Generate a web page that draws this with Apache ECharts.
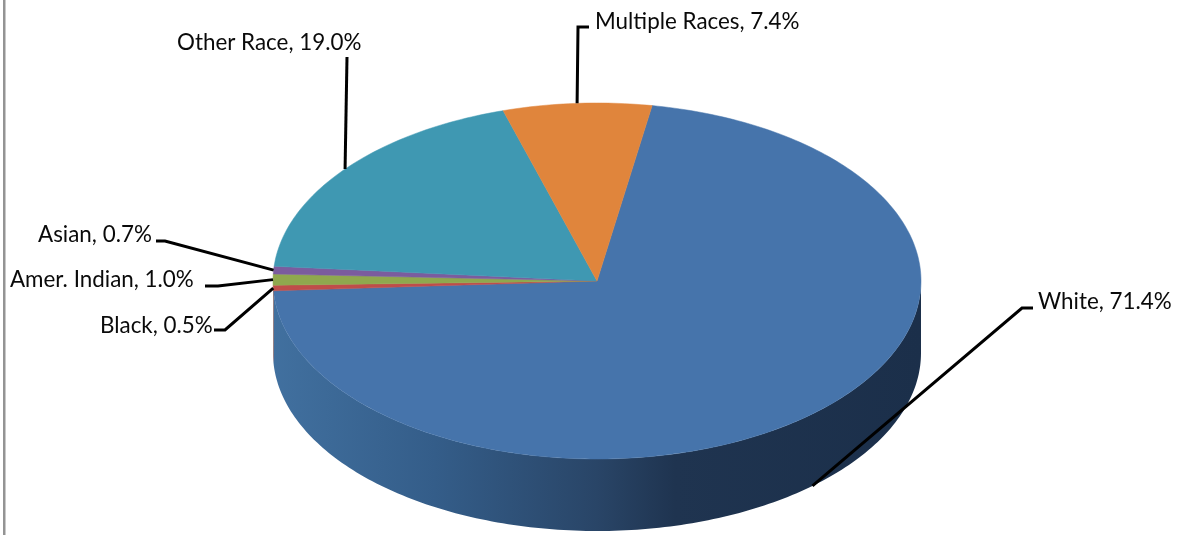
<!DOCTYPE html>
<html>
<head>
<meta charset="utf-8">
<title>Race pie</title>
<script src="https://cdn.jsdelivr.net/npm/echarts@6/dist/echarts.min.js"></script>
<style>
  html, body { margin: 0; padding: 0; background: #fff; }
  #pieChart { width: 1180px; height: 535px; }
</style>
</head>
<body>
<div id="pieChart"></div>
<script>
// values, clockwise from the right edge of the orange slice
const categories = ["White", "Black", "Amer. Indian", "Asian", "Other Race", "Multiple Races"];
const percents = [71.4, 0.5, 1.0, 0.7, 19.0, 7.4];

const sliceColors = ["#4674ab", "#bf4d4a", "#8fa84e", "#7b5c9e", "#3f98b2", "#e0853c"];
const wallColors = ["#1b2f4a", "#8f3a38", "#6c7e3b", "#5c4577", "#2f7286", "#a8642d"];

// tilted disc
const cx = 597, cy = 281, rx = 324, ry = 178, depth = 72;
const startAngle = 9.8;

// label text anchor and the bend(s) of its leader line, in page pixels
const labelSpots = [
  { x: 1038, y: 302, align: "left", bends: [[1022, 308], [1033, 308]], onWall: true },
  { x: 100, y: 326, align: "left", bends: [[225, 330], [214, 330]] },
  { x: 10, y: 280, align: "left", bends: [[218, 286], [205, 286]] },
  { x: 38, y: 235, align: "left", bends: [[165, 241], [156, 241]] },
  { x: 177, y: 43, align: "left", bends: [[347, 57]] },
  { x: 595, y: 22, align: "left", bends: [[578, 27], [589, 27]] }
];

function rim(deg, drop) {
  const t = deg * Math.PI / 180;
  return [cx + rx * Math.sin(t), cy - ry * Math.cos(t) + (drop || 0)];
}

function arc(from, to, drop) {
  const pts = [];
  const n = Math.max(2, Math.ceil(Math.abs(to - from)));
  for (let i = 0; i <= n; i++) pts.push(rim(from + (to - from) * i / n, drop));
  return pts;
}

const total = percents.reduce((a, b) => a + b, 0);
const spans = [];
percents.reduce((a, v) => {
  const b = a + v / total * 360;
  spans.push([a, b]);
  return b;
}, startAngle);

function renderSlice(params, api) {
  const i = params.dataIndex;
  const value = api.value(0);
  const [a, b] = spans[i];
  const spot = labelSpots[i];
  const children = [];

  // only the front half of the side wall can be seen
  const wallA = Math.max(a, 90), wallB = Math.min(b, 270);
  if (wallB > wallA) {
    const fill = i === 0 ? {
      type: "linear", x: 0, y: 0, x2: 1, y2: 0,
      colorStops: [
        { offset: 0, color: "#41709f" },
        { offset: 0.25, color: "#345d89" },
        { offset: 0.5, color: "#294567" },
        { offset: 0.62, color: "#1f3450" },
        { offset: 1, color: wallColors[0] }
      ]
    } : wallColors[i];
    children.push({
      type: "polygon",
      shape: { points: arc(wallA, wallB, 0).concat(arc(wallB, wallA, depth)) },
      style: { fill: fill }
    });
  }

  children.push({
    type: "polygon",
    shape: { points: [[cx, cy]].concat(arc(a, b, 0)) },
    style: { fill: sliceColors[i], stroke: sliceColors[i], lineWidth: 0.5 }
  });

  const anchor = rim((a + b) / 2, spot.onWall ? depth : 0);
  children.push({
    type: "polyline",
    z2: 5,
    shape: { points: [anchor].concat(spot.bends) },
    style: { fill: null, stroke: "#000", lineWidth: 3 }
  });
  children.push({
    type: "text",
    z2: 6,
    style: {
      x: spot.x,
      y: spot.y,
      text: categories[i] + ", " + value.toFixed(1) + "%",
      fill: "#0a0a0a",
      font: "22.4px Lato",
      textAlign: spot.align,
      textVerticalAlign: "middle"
    }
  });
  return { type: "group", children: children };
}

const chart = echarts.init(document.getElementById("pieChart"), null, { renderer: "canvas" });
chart.setOption({
  animation: false,
  backgroundColor: "#fff",
  graphic: [{
    type: "rect",
    shape: { x: 3, y: 0, width: 2.5, height: 535 },
    style: { fill: "#949494" }
  }],
  series: [{
    type: "custom",
    coordinateSystem: "none",
    silent: true,
    renderItem: renderSlice,
    data: percents.map((v, i) => ({ name: categories[i], value: [v] }))
  }]
});
</script>
</body>
</html>
